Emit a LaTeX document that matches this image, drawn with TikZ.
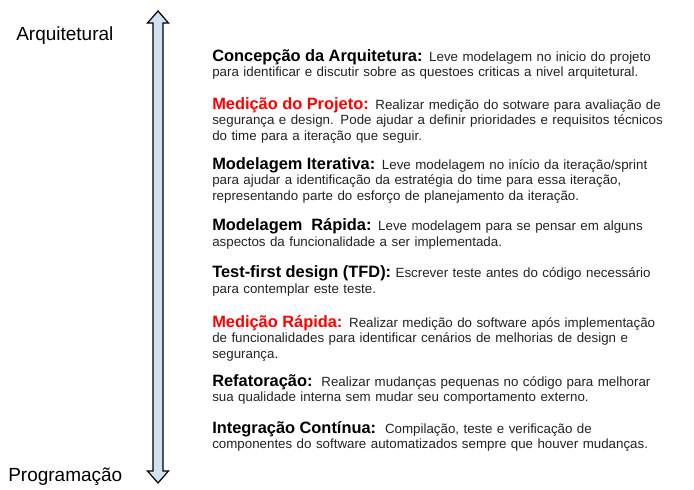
\documentclass[tikz,border=0pt]{standalone}
\usepackage{fontspec}
\setmainfont{Liberation Sans}
\definecolor{arrowfill}{HTML}{CFE2F3}
\definecolor{bodytext}{HTML}{222222}
\definecolor{hdred}{HTML}{FF0000}
\newcommand\hd[2][black]{{\color{#1}\fontsize{12.3}{11.625}\selectfont\bfseries #2}}
\newcommand\bodyfnt{\fontsize{10}{11.625}\selectfont\lineskiplimit=-10pt\relax}
\begin{document}
\begin{tikzpicture}[x=0.75pt,y=-0.75pt,
  block/.style={anchor=base west,inner sep=0pt,text width=365pt,align=left,
    text=bodytext,font=\bodyfnt},
  endlabel/.style={anchor=base west,inner sep=0pt,font=\fontsize{14.25}{16}\selectfont},
  axisarrow/.style={draw=black,line width=0.9pt,fill=arrowfill,line join=miter}]
\useasboundingbox (0,0) rectangle (694,490);
% vertical double arrow
\draw[axisarrow] (158,11) -- (168.5,23) -- (163,23) -- (163,471) -- (168.5,471)
  -- (158,483) -- (147.5,471) -- (153,471) -- (153,23) -- (147.5,23) -- cycle;
\node[endlabel] (top) at (16,40) {Arquitetural};
\node[endlabel] (bottom) at (8,481) {Programação};
% blocks
\node[block] (b1) at (212,61) {\hd{Concepção da Arquitetura:} Leve modelagem no inicio do projeto\\
para identificar e discutir sobre as questoes criticas a nivel arquitetural.};
\node[block] (b2) at (212,109) {\hd[hdred]{Medição do Projeto:} Realizar medição do sotware para avaliação de\\
segurança e design. Pode ajudar a definir prioridades e requisitos técnicos\\
do time para a iteração que seguir.};
\node[block] (b3) at (212,169) {\hd{Modelagem Iterativa:} Leve modelagem no início da iteração/sprint\\
para ajudar a identificação da estratégia do time para essa iteração,\\
representando parte do esforço de planejamento da iteração.};
\node[block] (b4) at (212,230.5) {\hd{Modelagem\ \ Rápida:} Leve modelagem para se pensar em alguns\\
aspectos da funcionalidade a ser implementada.};
\node[block] (b5) at (212,277.5) {\hd{Test-first design (TFD):} Escrever teste antes do código necessário\\
para contemplar este teste.};
\node[block] (b6) at (212,327) {\hd[hdred]{Medição Rápida:} Realizar medição do software após implementação\\
de funcionalidades para identificar cenários de melhorias de design e\\
segurança.};
\node[block] (b7) at (212,386) {\hd{Refatoração:}\ \ Realizar mudanças pequenas no código para melhorar\\
sua qualidade interna sem mudar seu comportamento externo.};
\node[block] (b8) at (212,433) {\hd{Integração Contínua:}\ \ Compilação, teste e verificação de\\
componentes do software automatizados sempre que houver mudanças.};
\end{tikzpicture}
\end{document}
